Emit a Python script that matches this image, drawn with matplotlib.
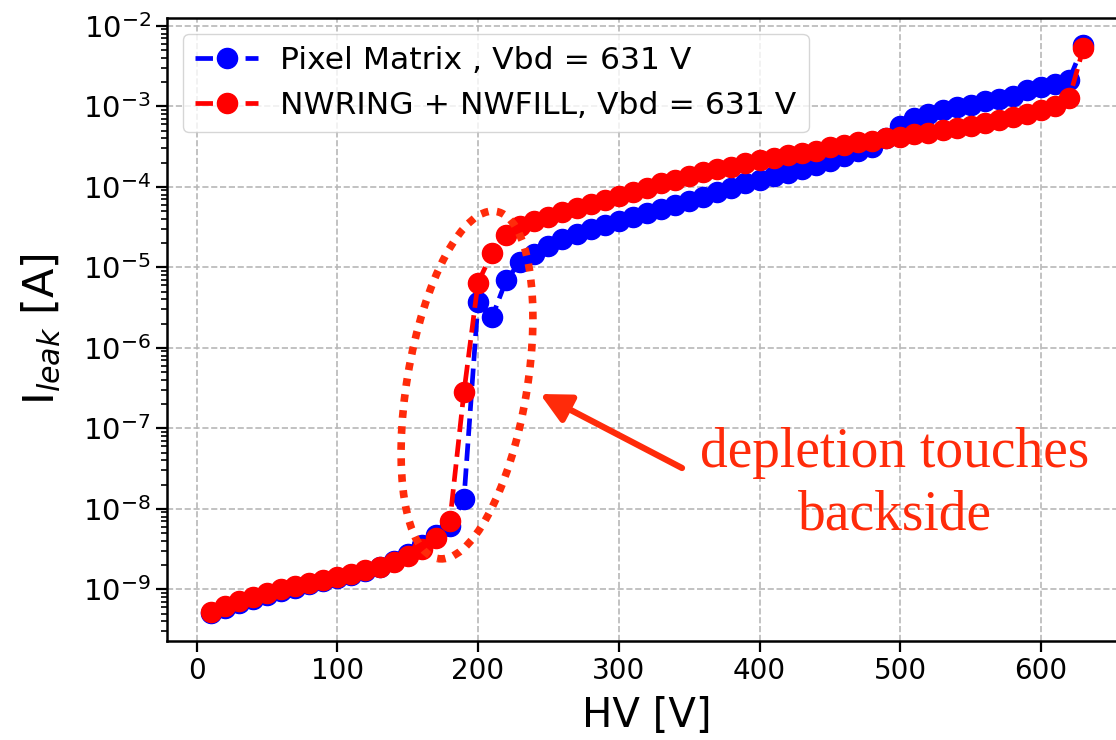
import matplotlib
matplotlib.use("Agg")
import matplotlib.pyplot as plt
from matplotlib.patches import Ellipse, FancyArrowPatch
from matplotlib.transforms import IdentityTransform

# bias voltage [V]
hv = [10, 20, 30, 40, 50, 60, 70, 80, 90, 100, 110, 120, 130, 140, 150, 160,
      170, 180, 190, 200, 210, 220, 230, 240, 250, 260, 270, 280, 290, 300,
      310, 320, 330, 340, 350, 360, 370, 380, 390, 400, 410, 420, 430, 440,
      450, 460, 470, 480, 490, 500, 510, 520, 530, 540, 550, 560, 570, 580,
      590, 600, 610, 620, 630]

# leakage current [A], pixel matrix
i_pixel = [5.13e-10, 5.89e-10, 6.76e-10, 7.59e-10, 8.51e-10, 9.55e-10, 1.05e-9,
           1.15e-9, 1.26e-9, 1.38e-9, 1.51e-9, 1.70e-9, 1.91e-9, 2.24e-9, 2.75e-9,
           3.55e-9, 4.79e-9, 6.17e-9, 1.32e-8, 3.72e-6, 2.40e-6, 6.92e-6, 1.17e-5,
           1.48e-5, 1.86e-5, 2.24e-5, 2.57e-5, 2.95e-5, 3.31e-5, 3.72e-5, 4.17e-5,
           4.68e-5, 5.25e-5, 5.89e-5, 6.61e-5, 7.41e-5, 8.51e-5, 9.77e-5, 1.10e-4,
           1.23e-4, 1.35e-4, 1.48e-4, 1.66e-4, 1.86e-4, 2.09e-4, 2.40e-4, 2.75e-4,
           3.16e-4, 3.98e-4, 5.75e-4, 7.24e-4, 8.13e-4, 8.91e-4, 9.77e-4, 1.05e-3,
           1.15e-3, 1.23e-3, 1.35e-3, 1.58e-3, 1.74e-3, 1.91e-3, 2.14e-3, 5.75e-3]

# leakage current [A], nwring + nwfill
i_ring = [5.25e-10, 6.17e-10, 7.08e-10, 7.94e-10, 8.91e-10, 1.00e-9, 1.10e-9,
          1.20e-9, 1.32e-9, 1.43e-9, 1.55e-9, 1.72e-9, 1.91e-9, 2.19e-9, 2.57e-9,
          3.16e-9, 4.37e-9, 7.08e-9, 2.82e-7, 6.46e-6, 1.51e-5, 2.51e-5, 3.24e-5,
          3.72e-5, 4.27e-5, 4.90e-5, 5.50e-5, 6.17e-5, 6.92e-5, 7.76e-5, 8.71e-5,
          9.77e-5, 1.10e-4, 1.23e-4, 1.38e-4, 1.51e-4, 1.66e-4, 1.78e-4, 1.95e-4,
          2.14e-4, 2.29e-4, 2.45e-4, 2.63e-4, 2.82e-4, 3.09e-4, 3.31e-4, 3.55e-4,
          3.72e-4, 3.98e-4, 4.17e-4, 4.47e-4, 4.68e-4, 5.01e-4, 5.37e-4, 5.75e-4,
          6.17e-4, 6.76e-4, 7.41e-4, 8.13e-4, 8.91e-4, 1.02e-3, 1.26e-3, 5.25e-3]

labels = ["Pixel Matrix , Vbd = 631 V", "NWRING + NWFILL, Vbd = 631 V"]
note = "depletion touches\nbackside"
note_color = "#ff2b0a"

fig = plt.figure(figsize=(11.16, 7.4), dpi=100)
# the reference is a crop: right spine sits just outside the picture
ax = fig.add_axes([0.1496, 0.1338, 0.8602, 0.8419])

ax.plot(hv, i_pixel, "--o", color="b", lw=3.4, ms=14.5, label=labels[0])
ax.plot(hv, i_ring, "--o", color="r", lw=3.4, ms=14.5, label=labels[1])

ax.set_yscale("log")
ax.set_xlim(-21, 661)
ax.set_ylim(2.28e-10, 1.25e-2)
ax.grid(True, which="major", ls="--", lw=1.2, color="#b8b8b8")

ax.set_xlabel("HV [V]", fontsize=29, labelpad=8)
ax.set_ylabel("I$_{leak}$ [A]", fontsize=31, labelpad=14)
ax.tick_params(which="major", length=8, width=1.6)
ax.tick_params(axis="x", labelsize=20)
ax.tick_params(axis="y", labelsize=21)
ax.tick_params(which="minor", length=4.5, width=1.2)
for sp in ax.spines.values():
    sp.set_linewidth(1.8)

ax.legend(loc="upper left", fontsize=22.6, borderaxespad=0.5,
          handletextpad=0.7)

# dotted ellipse around the jump, drawn in figure inches
ell = Ellipse((4.67, 3.55), width=1.2, height=3.52, angle=-9.5,
              transform=fig.dpi_scale_trans, fill=False, ec=note_color,
              lw=5.5, ls=(0, (1, 1.1)))
fig.add_artist(ell)

# arrow in figure pixels (origin bottom-left)
arr = FancyArrowPatch((682, 272), (540, 346), transform=IdentityTransform(),
                      arrowstyle="-|>", color=note_color, lw=4.5,
                      mutation_scale=45, shrinkA=0, shrinkB=0)
fig.add_artist(arr)

fig.text(895 / 1116, 256 / 740, note, ha="center", va="center",
         multialignment="center", color=note_color, fontsize=40,
         family=["Liberation Serif", "DejaVu Serif"], linespacing=1.25)

fig.savefig("out.png", dpi=100)
